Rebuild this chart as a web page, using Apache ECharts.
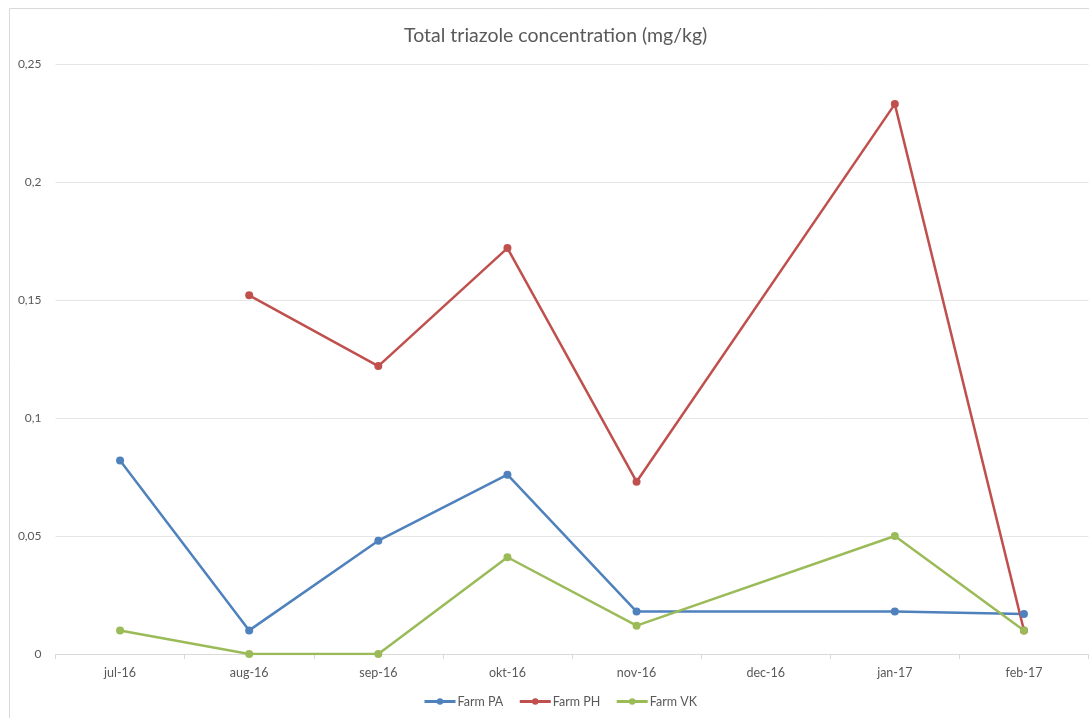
<!DOCTYPE html>
<html><head><meta charset="utf-8">
<script src="https://cdn.jsdelivr.net/npm/echarts@6/dist/echarts.min.js"></script>
<style>html,body{margin:0;padding:0;background:#fff;}#c{width:1089px;height:718px;}</style>
</head><body><div id="c"></div>
<script>
const categories = ['jul-16','aug-16','sep-16','okt-16','nov-16','dec-16','jan-17','feb-17'];
const farmPA = [0.082, 0.010, 0.048, 0.076, 0.018, null, 0.018, 0.017];
const farmPH = [null, 0.152, 0.122, 0.172, 0.073, null, 0.233, 0.010];
const farmVK = [0.010, 0.000, 0.000, 0.041, 0.012, null, 0.050, 0.010];
const seriesNames = ['Farm PA','Farm PH','Farm VK'];
const colors = ['#4F81BD','#C0504D','#9BBB59'];
const font = 'Lato, "Open Sans", sans-serif';
const chart = echarts.init(document.getElementById('c'));
function mk(name, data, color){
  return {name, type:'line', data, connectNulls:true, symbol:'circle', symbolSize:8,
    lineStyle:{width:2.5,color}, itemStyle:{color}, emphasis:{disabled:true}};
}
chart.setOption({
  animation:false,
  graphic:[{type:'rect', shape:{x:9.5,y:8.5,width:1100,height:720}, style:{fill:'none',stroke:'#d9d9d9',lineWidth:1}, silent:true}],
  title:{text:'Total triazole concentration (mg/kg)', left:399, top:21,
    textStyle:{fontFamily:font, fontSize:19.5, fontWeight:'normal', color:'#595959'}},
  grid:{left:55.5, right:0.5, top:64, bottom:64, containLabel:false},
  legend:{bottom:5, left:418, itemWidth:31, itemHeight:8, itemGap:15,
    lineStyle:{width:3},
    textStyle:{fontFamily:font, fontSize:12.5, color:'#595959', padding:[0,0,0,-3]}, data:seriesNames},
  xAxis:{type:'category', data:categories, boundaryGap:true,
    axisLine:{lineStyle:{color:'#d9d9d9'}}, axisTick:{show:true, length:5, lineStyle:{color:'#d9d9d9'}},
    axisLabel:{fontFamily:font, fontSize:12.5, color:'#595959', margin:12}},
  yAxis:{type:'value', min:0, max:0.25, interval:0.05,
    axisLine:{show:false}, axisTick:{show:false},
    splitLine:{lineStyle:{color:'#e6e6e6'}},
    axisLabel:{fontFamily:font, fontSize:12, color:'#595959', margin:14,
      formatter:v=>String(Math.round(v*100)/100).replace('.',',')}},
  series:[mk(seriesNames[0],farmPA,colors[0]), mk(seriesNames[1],farmPH,colors[1]), mk(seriesNames[2],farmVK,colors[2])]
});
</script></body></html>
